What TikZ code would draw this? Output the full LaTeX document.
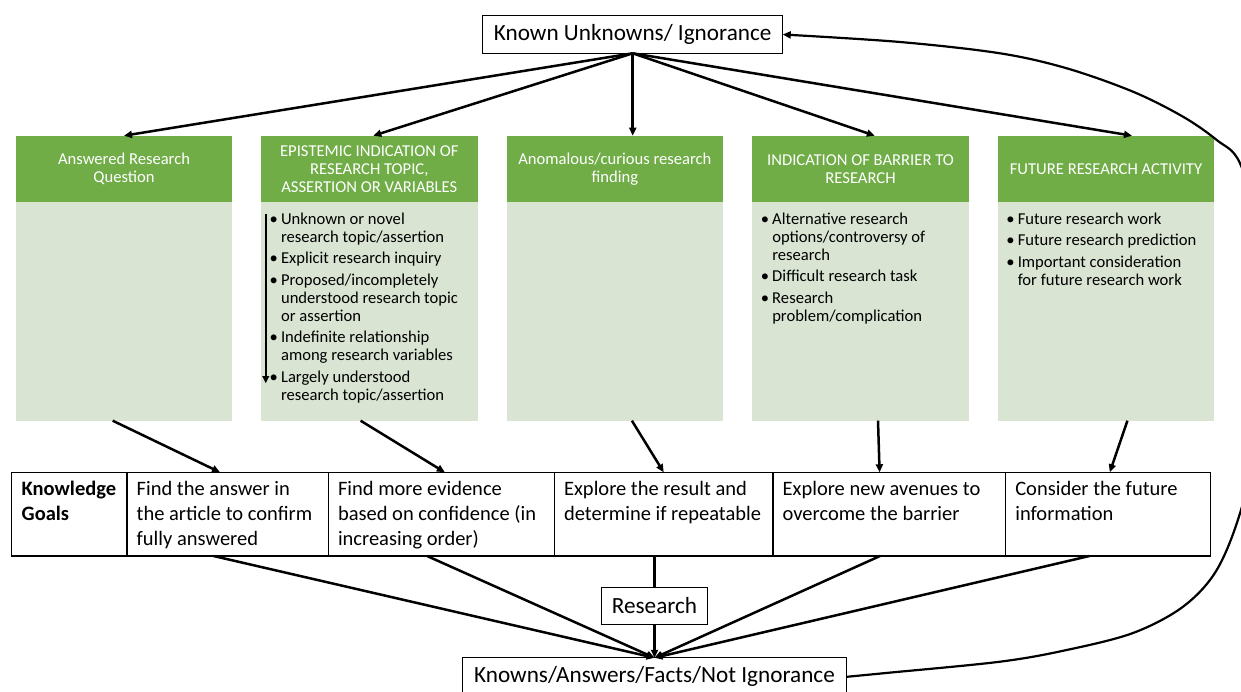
\documentclass[tikz,border=0pt]{standalone}
\usepackage{fontspec}
\setmainfont{Carlito}
\usetikzlibrary{arrows.meta,calc}
\definecolor{hdrgreen}{HTML}{70AD47}
\definecolor{bodygreen}{HTML}{D9E4D3}
% bullet item with hanging indent (lines broken with \newline so the indent holds)
\newcommand\bitem[1]{\par\hangindent=10.5pt\hangafter=1\noindent\makebox[10.5pt][l]{\hspace*{-1pt}\textbullet}#1\par}
\begin{document}
\begin{tikzpicture}[x=1pt,y=-1pt,
  every node/.style={inner sep=0pt, outer sep=0pt},
  hdr/.style={fill=hdrgreen, text=white, minimum width=216.5pt, minimum height=66pt,
    align=center, font=\fontsize{16.6}{18}\selectfont},
  bodybox/.style={fill=bodygreen, minimum width=216.5pt, minimum height=219pt},
  txtlist/.style={anchor=base west, text=black, font=\fontsize{16.6}{18}\selectfont},
  plainbox/.style={draw=black, line width=1pt, fill=white, font=\fontsize{23.2}{27}\selectfont},
  cell/.style={draw=black, line width=1.2pt, minimum height=83.7pt},
  celltxt/.style={anchor=base west, font=\fontsize{20.5}{25}\selectfont},
  arr/.style={line width=2.5pt, -{Triangle[length=8pt,width=7pt]}},
  loop/.style={line width=2.2pt, -{Triangle[length=8pt,width=7pt]}}]
\useasboundingbox (0,0) rectangle (1241,692);
\fill[white] (0,0) rectangle (1241,692);
\clip (0,0) rectangle (1241,692);

% category columns: header and body
\foreach \n/\cx in {1/124, 2/369.3, 3/614.9, 4/860.5, 5/1106}{
  \node[bodybox] (b\n) at (\cx,311.2) {};
}
\node[hdr] (h1) at (124,168.7) {Answered Research\\Question};
\node[hdr] (h2) at (369.3,168.7) {EPISTEMIC INDICATION OF\\RESEARCH TOPIC,\\ASSERTION OR VARIABLES};
\node[hdr] (h3) at (614.9,168.7) {Anomalous/curious research\\finding};
\node[hdr] (h4) at (860.5,168.7) {INDICATION OF BARRIER TO\\RESEARCH};
\node[hdr] (h5) at (1106,168.7) {FUTURE RESEARCH ACTIVITY};

% bullet lists
\node[txtlist] (l2) at ($(b2.north west)+(9.5,22.6)$) {\begin{minipage}[t]{205pt}\setlength\parskip{3.5pt}%
\bitem{Unknown or novel\newline research topic/assertion}
\bitem{Explicit research inquiry}
\bitem{Proposed/incompletely\newline understood research topic\newline or assertion}
\bitem{Indefinite relationship\newline among research variables}
\bitem{Largely understood\newline research topic/assertion}
\end{minipage}};
\node[txtlist] (l4) at ($(b4.north west)+(9.5,22.6)$) {\begin{minipage}[t]{205pt}\setlength\parskip{3.5pt}%
\bitem{Alternative research\newline options/controversy of\newline research}
\bitem{Difficult research task}
\bitem{Research\newline problem/complication}
\end{minipage}};
\node[txtlist] (l5) at ($(b5.north west)+(9.5,22.6)$) {\begin{minipage}[t]{205pt}\setlength\parskip{3.5pt}%
\bitem{Future research work}
\bitem{Future research prediction}
\bitem{Important consideration\newline for future research work}
\end{minipage}};

% confidence ordering arrow
\draw[line width=2.2pt, -{Triangle[length=7pt,width=6.5pt]}]
  ($(b2.north west)+(4.7,12.3)$) coordinate (o1) -- ($(b2.north west)+(4.7,181.5)$) coordinate (o2);

% top and bottom boxes
\node[plainbox, minimum width=300pt, minimum height=37.6pt] (top) at (632.7,34.5) {Known Unknowns/ Ignorance};
\node[plainbox, minimum width=106pt, minimum height=37pt] (rs) at (654.5,605.8) {Research};
\node[plainbox, minimum width=384.4pt, minimum height=38pt] (kn) at (654.5,676.8) {Knowns/Answers/Facts/Not Ignorance};

% knowledge goals row
\node[cell, minimum width=115.3pt] (c0) at (69.35,514.15) {};
\node[cell, minimum width=201.3pt] (c1) at (227.65,514.15) {};
\node[cell, minimum width=226.1pt] (c2) at (441.35,514.15) {};
\node[cell, minimum width=218.6pt] (c3) at (663.7,514.15) {};
\node[cell, minimum width=232.6pt] (c4) at (889.3,514.15) {};
\node[cell, minimum width=204.8pt] (c5) at (1108,514.15) {};
\node[celltxt] (t0) at ($(c0.north west)+(10,22.7)$) {\begin{minipage}[t]{110pt}\raggedright\textbf{Knowledge}\\\textbf{Goals}\end{minipage}};
\node[celltxt] (t1) at ($(c1.north west)+(9.7,22.7)$) {\begin{minipage}[t]{220pt}\raggedright Find the answer in\\the article to confirm\\fully answered\end{minipage}};
\node[celltxt] (t2) at ($(c2.north west)+(9.7,22.7)$) {\begin{minipage}[t]{230pt}\raggedright Find more evidence\\based on confidence (in\\increasing order)\end{minipage}};
\node[celltxt] (t3) at ($(c3.north west)+(9.7,22.7)$) {\begin{minipage}[t]{230pt}\raggedright Explore the result and\\determine if repeatable\end{minipage}};
\node[celltxt] (t4) at ($(c4.north west)+(9.7,22.7)$) {\begin{minipage}[t]{230pt}\raggedright Explore new avenues to\\overcome the barrier\end{minipage}};
\node[celltxt] (t5) at ($(c5.north west)+(9.7,22.7)$) {\begin{minipage}[t]{200pt}\raggedright Consider the future\\information\end{minipage}};

% ignorance fans out into the categories
\draw[arr] (top.south) -- (h1.north);
\draw[arr] (top.south) -- ([xshift=4pt]h2.north);
\draw[arr] (top.south) -- (top.south |- h3.north);
\draw[arr] (top.south) -- ([xshift=14.3pt]h4.north);
\draw[arr] (top.south) -- ([xshift=26pt]h5.north);

% categories lead to knowledge goals
\draw[arr] ([xshift=-11.3pt]b1.south) -- ([xshift=-7.6pt]c1.north);
\draw[arr] ([xshift=-8.7pt]b2.south) -- ([xshift=3.5pt]c2.north);
\draw[arr] ([xshift=17pt]b3.south) -- (c3.north);
\draw[arr] ([xshift=17.5pt]b4.south) -- ([xshift=-9.7pt]c4.north);
\draw[arr] ([xshift=21.4pt]b5.south) -- ([xshift=1.8pt]c5.north);

% goals converge on knowns
\draw[arr] ([xshift=-14.1pt]c1.south) -- (kn.north);
\draw[arr] ([xshift=-14.3pt]c2.south) -- (kn.north);
\draw[line width=2.5pt] (c3.south -| rs.north) -- (rs.north);
\draw[arr] (rs.south) -- (kn.north);
\draw[arr] ([xshift=-9.3pt]c4.south) -- (kn.north);
\draw[arr] ([xshift=-18.6pt]c5.south) -- (kn.north);

% feedback loop back to ignorance
\draw[loop] plot[smooth, tension=0.55] coordinates {(kn.east) (886,673) (1000,661.7) (1066.7,650) (1133,633) (1183,606.7) (1216.7,570) (1241,510) (1262,420) (1267,330) (1262,240) (1240,163.3) (1216.7,140) (1183,116.7) (1133,91.7) (1066.7,68.3) (1000,53.3) (900,42) (top.east)};
\end{tikzpicture}
\end{document}
